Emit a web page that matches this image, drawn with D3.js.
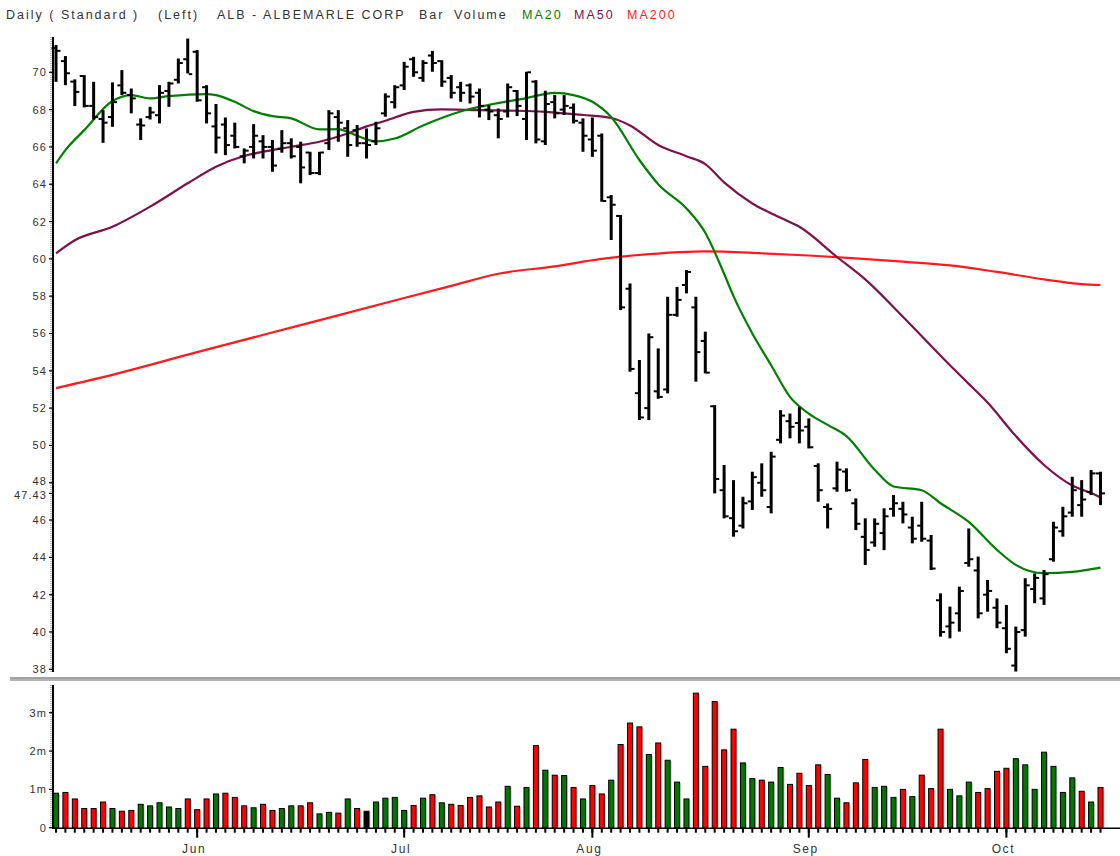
<!DOCTYPE html>
<html>
<head>
<meta charset="utf-8">
<script src="https://cdn.jsdelivr.net/npm/d3@7/dist/d3.min.js"></script>
<style>
  body { margin: 0; background: #fff; }
  text { font-family: "Liberation Sans", Arial, sans-serif; }
</style>
</head>
<body>
<svg id="chart" width="1120" height="856"></svg>
<script>
// ALB daily OHLC bars (112 sessions)
const opens = [
  71.30, 70.60, 69.50, 69.80, 68.20, 67.50, 67.60, 69.30, 68.78, 67.20,
  67.60, 67.70, 69.00, 69.60, 70.70, 71.10, 69.20, 67.10, 67.20, 66.60,
  65.50, 66.00, 66.30, 66.00, 65.90, 66.20, 66.00, 65.70, 64.60, 66.20,
  67.60, 67.00, 66.90, 66.20, 66.30, 67.80, 68.40, 69.30, 70.70, 69.70,
  70.90, 70.60, 69.70, 69.20, 69.30, 68.90, 68.00, 67.70, 67.90, 69.00,
  67.50, 69.50, 66.30, 68.40, 68.00, 68.10, 67.30, 66.40, 66.60, 63.30,
  62.30, 58.40, 52.80, 52.00, 52.90, 53.00, 57.00, 58.60, 57.40, 55.60,
  52.10, 47.60, 46.10, 45.70, 47.00, 48.00, 46.70, 50.30, 51.30, 51.20,
  51.00, 48.90, 46.70, 47.70, 48.60, 46.90, 45.10, 44.80, 45.30, 46.60,
  46.60, 45.60, 45.70, 44.90, 41.70, 40.30, 41.00, 43.70, 43.30, 42.00,
  41.30, 40.20, 38.20, 40.10, 42.30, 41.80, 43.90, 45.40, 46.40, 46.80,
  47.50, 48.50
];
const highs = [
  71.46, 70.87, 69.62, 69.85, 69.49, 67.97, 69.46, 70.12, 69.13, 67.53,
  68.15, 69.31, 69.49, 70.74, 71.81, 71.19, 69.31, 68.30, 67.58, 67.30,
  65.92, 67.22, 66.63, 66.37, 66.90, 66.46, 66.28, 65.74, 65.74, 67.97,
  67.97, 67.44, 67.17, 66.99, 67.35, 68.87, 69.31, 70.56, 70.83, 70.65,
  71.15, 70.65, 69.85, 69.49, 69.40, 69.13, 68.24, 68.06, 69.40, 69.05,
  70.03, 69.58, 69.01, 68.78, 68.78, 68.33, 67.53, 67.58, 66.72, 63.42,
  62.35, 58.68, 54.58, 56.00, 55.20, 57.97, 58.50, 59.40, 57.97, 56.10,
  52.16, 48.95, 48.14, 47.25, 48.59, 49.04, 49.66, 51.89, 51.71, 52.07,
  51.45, 49.04, 46.89, 49.13, 48.77, 47.16, 46.09, 46.09, 46.63, 47.34,
  46.98, 46.18, 46.98, 45.20, 42.07, 41.36, 42.43, 45.55, 44.04, 42.79,
  41.80, 41.45, 40.29, 42.88, 43.14, 43.32, 45.91, 46.71, 48.32, 48.14,
  48.68, 48.59
];
const lows = [
  69.49, 69.31, 68.19, 68.12, 67.47, 66.22, 67.08, 68.78, 67.80, 66.37,
  67.47, 67.26, 68.15, 69.40, 69.94, 68.42, 67.26, 65.65, 65.56, 65.92,
  65.12, 65.38, 65.38, 64.67, 65.69, 65.38, 64.05, 64.49, 64.49, 65.83,
  66.28, 65.47, 66.01, 65.38, 66.10, 67.62, 68.06, 69.05, 69.76, 69.49,
  70.03, 69.22, 68.60, 68.42, 68.33, 67.58, 67.44, 66.46, 67.58, 67.65,
  66.37, 66.19, 66.10, 67.53, 67.71, 67.26, 65.74, 65.47, 63.06, 61.01,
  57.26, 53.95, 51.36, 51.36, 52.50, 52.79, 56.90, 58.15, 53.42, 53.86,
  47.43, 46.09, 45.11, 45.55, 46.54, 47.25, 46.36, 50.11, 50.38, 50.11,
  49.84, 46.98, 45.55, 47.52, 47.52, 45.46, 43.59, 44.57, 44.39, 46.18,
  45.82, 44.75, 44.84, 43.32, 39.75, 39.66, 40.02, 43.50, 40.73, 41.09,
  40.20, 38.86, 37.88, 39.75, 41.54, 41.45, 43.77, 45.11, 46.18, 46.18,
  47.34, 46.80
];
const closes = [
  71.15, 69.95, 68.95, 68.20, 67.60, 67.30, 68.40, 68.90, 68.60, 67.15,
  67.85, 68.90, 69.40, 70.50, 69.90, 68.50, 67.80, 66.50, 66.10, 66.00,
  65.80, 66.60, 66.00, 65.00, 66.20, 65.50, 64.90, 64.60, 65.70, 67.80,
  67.30, 66.10, 66.20, 66.10, 67.00, 68.70, 69.20, 70.30, 70.00, 70.50,
  70.50, 69.50, 68.90, 68.90, 68.70, 68.20, 67.90, 67.50, 69.20, 68.20,
  70.00, 66.40, 68.30, 67.80, 68.20, 67.40, 66.60, 65.80, 63.10, 62.90,
  57.40, 54.10, 51.50, 55.80, 52.60, 57.00, 57.80, 59.30, 55.00, 53.90,
  48.20, 46.20, 45.40, 46.90, 48.30, 47.60, 49.40, 51.60, 51.00, 50.80,
  49.90, 47.60, 46.60, 48.70, 47.60, 45.80, 44.40, 45.80, 46.20, 46.90,
  46.30, 45.00, 45.00, 43.40, 40.00, 40.50, 42.20, 43.90, 41.00, 42.20,
  40.50, 39.10, 40.00, 42.50, 42.90, 43.10, 45.60, 46.20, 47.60, 47.10,
  48.50, 47.43
];
// volume in millions of shares
const volumes = [
  0.90, 0.92, 0.75, 0.50, 0.50, 0.67, 0.50, 0.43, 0.45, 0.61,
  0.57, 0.65, 0.54, 0.50, 0.75, 0.47, 0.75, 0.88, 0.90, 0.79,
  0.57, 0.52, 0.61, 0.45, 0.50, 0.57, 0.57, 0.65, 0.36, 0.40,
  0.38, 0.75, 0.50, 0.43, 0.67, 0.77, 0.79, 0.45, 0.58, 0.77,
  0.86, 0.65, 0.61, 0.58, 0.79, 0.83, 0.54, 0.67, 1.08, 0.56,
  1.05, 2.14, 1.50, 1.37, 1.36, 1.05, 0.75, 1.10, 0.88, 1.24,
  2.17, 2.73, 2.63, 1.91, 2.21, 1.76, 1.19, 0.75, 3.51, 1.60,
  3.29, 2.03, 2.57, 1.69, 1.28, 1.24, 1.19, 1.57, 1.13, 1.42,
  1.10, 1.64, 1.39, 0.77, 0.65, 1.17, 1.78, 1.05, 1.08, 0.79,
  1.00, 0.81, 1.37, 1.02, 2.57, 1.00, 0.83, 1.19, 0.92, 1.02,
  1.47, 1.55, 1.80, 1.64, 1.00, 1.97, 1.60, 0.92, 1.30, 0.95,
  0.67, 1.05
];
// G = up day, R = down day, K = unchanged
const volDir = "GRRRRRGRRG" + "GGGGRRRGRR" + "RGRRGGRRGG" + "RGRKGGGGRG" +
               "RGRRRRRRGR" + "GRGRGRGRRG" + "RRRGRGGGRR" + "RRRGGRGGRR" +
               "RRGGRRRGGG" + "RGRRRGGGRR" + "RRGGGGGGGR" + "GR";

// first session of each month (bar number)
const months = [
  { label: "Jun", bar: 16 },
  { label: "Jul", bar: 38 },
  { label: "Aug", bar: 58 },
  { label: "Sep", bar: 81 },
  { label: "Oct", bar: 102 },
];

const priceTicks = [38, 40, 42, 44, 46, 48, 50, 52, 54, 56, 58, 60, 62, 64, 66, 68, 70];
const volTicks = [0, 1, 2, 3];
const lastPrice = 47.43;

// moving averages: [bar number, value]
const ma20 = [
  [1, 65.12], [2, 65.83], [4, 66.9], [7, 68.46], [9, 68.78], [11, 68.6], [13, 68.72],
  [17, 68.83], [18, 68.78], [20, 68.42], [22, 67.92], [24, 67.65], [26, 67.53],
  [29, 66.94], [31, 66.95], [32, 66.8], [33, 66.6], [35, 66.3], [37, 66.45],
  [40, 67.15], [44, 67.9], [47, 68.25], [51, 68.62], [54, 68.9], [56, 68.78],
  [58, 68.42], [60, 67.6], [63, 65.3], [65, 64.0], [68, 62.7], [70, 61.4],
  [72, 59.2], [73, 58.0], [75, 56.0], [77, 54.3], [79, 52.6], [81, 51.7],
  [83, 51.1], [85, 50.5], [88, 48.7], [90, 47.8], [93, 47.6], [95, 46.9],
  [98, 45.9], [101, 44.4], [103, 43.6], [106, 43.15], [109, 43.22], [112, 43.45]
];
const ma50 = [
  [1, 60.3], [3, 61.0], [7, 61.72], [11, 62.8], [15, 64.05], [18, 64.94], [21, 65.51],
  [23, 65.74], [26, 66.01], [29, 66.28], [32, 66.72], [34, 67.1], [36, 67.4],
  [39, 67.88], [42, 68.01], [46, 67.97], [50, 67.94], [53, 67.88], [57, 67.71],
  [60, 67.55], [62, 67.15], [65, 66.1], [68, 65.5], [70, 65.08], [72, 64.1],
  [75, 62.97], [78, 62.2], [80, 61.72], [84, 60.1], [87, 58.9], [91, 56.9],
  [96, 54.3], [98, 53.3], [100, 52.3], [103, 50.5], [106, 48.95], [109, 47.85],
  [111, 47.45], [112, 47.21]
];
const ma200 = [
  [1, 53.07], [6, 53.66], [16, 55.0], [27, 56.45], [38, 57.9], [43, 58.55],
  [48, 59.2], [54, 59.6], [59, 60.0], [64, 60.25], [70, 60.4], [76, 60.3],
  [81, 60.18], [86, 60.03], [91, 59.85], [96, 59.65], [101, 59.3], [106, 58.9],
  [110, 58.65], [112, 58.6]
];

const colors = {
  up: "#007800", down: "#ff0000", flat: "#000000",
  ma20: "#008000", ma50: "#80104a", ma200: "#ff1a1a", text: "#333"
};

const bars = closes.map((c, i) => ({
  n: i + 1, o: opens[i], h: highs[i], l: lows[i], c: c,
  v: volumes[i], dir: volDir[i]
}));

const svg = d3.select("#chart");
svg.append("rect").attr("width", 1120).attr("height", 856).attr("fill", "#fff");

const x = d3.scaleLinear().domain([1, 112]).range([56, 1100.5]);
const y = d3.scaleLinear().domain([38, 70]).range([669.3, 72.3]);
const yv = d3.scaleLinear().domain([0, 3]).range([827.7, 712.7]);

const axisX = 53;

// ---- header line
const header = [
  { t: "Daily ( Standard )", x: 6, c: colors.text },
  { t: "(Left)", x: 158, c: colors.text },
  { t: "ALB - ALBEMARLE CORP", x: 217, c: colors.text },
  { t: "Bar", x: 419, c: colors.text },
  { t: "Volume", x: 454, c: colors.text },
  { t: "MA20", x: 522, c: colors.ma20 },
  { t: "MA50", x: 574, c: colors.ma50 },
  { t: "MA200", x: 627, c: colors.ma200 },
];
svg.append("g").selectAll("text").data(header).join("text")
  .attr("x", d => d.x).attr("y", 19)
  .attr("fill", d => d.c)
  .attr("font-size", 12.5).attr("letter-spacing", 2)
  .text(d => d.t);

// ---- moving averages
const maLine = d3.line()
  .x(d => x(d[0])).y(d => y(d[1]))
  .curve(d3.curveMonotoneX);

const maG = svg.append("g").attr("fill", "none").attr("stroke-width", 2.2);
maG.append("path").attr("d", maLine(ma200)).attr("stroke", colors.ma200);
maG.append("path").attr("d", maLine(ma50)).attr("stroke", colors.ma50);
maG.append("path").attr("d", maLine(ma20)).attr("stroke", colors.ma20);

// ---- OHLC bars
const barG = svg.append("g").attr("fill", "#000");
const bg = barG.selectAll("g").data(bars).join("g");
bg.append("rect")
  .attr("x", d => x(d.n) - 1.5).attr("width", 3)
  .attr("y", d => y(d.h)).attr("height", d => Math.max(1, y(d.l) - y(d.h)));
bg.append("rect")
  .attr("x", d => x(d.n) - 4.5).attr("width", 3.5)
  .attr("y", d => y(d.o) - 1).attr("height", 2);
bg.append("rect")
  .attr("x", d => x(d.n) + 1).attr("width", 3.5)
  .attr("y", d => y(d.c) - 1).attr("height", 2);

// ---- price axis
const pAxis = svg.append("g");
pAxis.append("line")
  .attr("x1", axisX).attr("x2", axisX).attr("y1", 37).attr("y2", 672)
  .attr("stroke", "#000").attr("stroke-width", 2);
pAxis.append("line")
  .attr("x1", axisX - 2).attr("x2", axisX - 2).attr("y1", 37).attr("y2", 672)
  .attr("stroke", "#777").attr("stroke-width", 1).attr("stroke-dasharray", "1,1");
const pt = pAxis.selectAll("g.tick").data(priceTicks.concat([lastPrice])).join("g")
  .attr("transform", d => `translate(0,${y(d)})`);
pt.append("line").attr("x1", axisX - 4).attr("x2", axisX)
  .attr("stroke", "#000").attr("stroke-width", 1.2);
// the 48 label and the last-price label sit very close: nudge them apart
pt.append("text")
  .attr("x", 47)
  .attr("dy", d => d === lastPrice ? "0.5em" : d === 48 ? "0.22em" : "0.36em")
  .attr("text-anchor", "end")
  .attr("font-size", 11).attr("letter-spacing", 1.1)
  .attr("fill", colors.text)
  .text(d => d === lastPrice ? d.toFixed(2) : d);

// ---- separator between panels
svg.append("line").attr("x1", 10).attr("x2", 1120).attr("y1", 678).attr("y2", 678)
  .attr("stroke", "#444").attr("stroke-width", 1.2);
svg.append("line").attr("x1", 10).attr("x2", 1120).attr("y1", 680).attr("y2", 680)
  .attr("stroke", "#9a9a9a").attr("stroke-width", 1.5);

// ---- volume panel
const volG = svg.append("g");
volG.selectAll("rect.sh").data(bars).join("rect")
  .attr("x", d => x(d.n) + 3).attr("width", 1)
  .attr("y", d => yv(d.v) + 1).attr("height", d => yv(0) - yv(d.v) - 1)
  .attr("fill", "#c8c8c8");
volG.selectAll("rect.v").data(bars).join("rect")
  .attr("x", d => x(d.n) - 2.5).attr("width", 5)
  .attr("y", d => yv(d.v)).attr("height", d => yv(0) - yv(d.v))
  .attr("fill", d => d.dir === "G" ? colors.up : d.dir === "R" ? colors.down : colors.flat)
  .attr("stroke", "#000").attr("stroke-width", 1);

const vAxis = svg.append("g");
vAxis.append("line")
  .attr("x1", axisX).attr("x2", axisX).attr("y1", 685).attr("y2", 829)
  .attr("stroke", "#000").attr("stroke-width", 2);
vAxis.append("line")
  .attr("x1", axisX - 2).attr("x2", axisX - 2).attr("y1", 685).attr("y2", 828)
  .attr("stroke", "#777").attr("stroke-width", 1).attr("stroke-dasharray", "1,1");
const vt = vAxis.selectAll("g.tick").data(volTicks).join("g")
  .attr("transform", d => `translate(0,${yv(d)})`);
vt.append("line").attr("x1", axisX - 4).attr("x2", axisX)
  .attr("stroke", "#000").attr("stroke-width", 1.2);
vt.append("text")
  .attr("x", 47).attr("dy", "0.36em").attr("text-anchor", "end")
  .attr("font-size", 11).attr("letter-spacing", 1.1)
  .attr("fill", colors.text)
  .text(d => d === 0 ? "0" : d + "m");

// ---- time axis
const tAxis = svg.append("g");
tAxis.append("line")
  .attr("x1", axisX).attr("x2", 1120).attr("y1", yv(0) + 0.5).attr("y2", yv(0) + 0.5)
  .attr("stroke", "#000").attr("stroke-width", 1.6);
tAxis.selectAll("rect.t").data(bars).join("rect")
  .attr("x", d => x(d.n) - 1).attr("width", 2)
  .attr("y", yv(0) + 1).attr("height", 4).attr("fill", "#000");
tAxis.selectAll("rect.m").data(months).join("rect")
  .attr("x", d => x(d.bar) - 1).attr("width", 2)
  .attr("y", yv(0) + 1).attr("height", 9).attr("fill", "#000");
tAxis.selectAll("text").data(months).join("text")
  .attr("x", d => x(d.bar) - 3).attr("y", 853)
  .attr("text-anchor", "middle")
  .attr("font-size", 12).attr("letter-spacing", 1.6)
  .attr("fill", colors.text)
  .text(d => d.label);
</script>
</body>
</html>
